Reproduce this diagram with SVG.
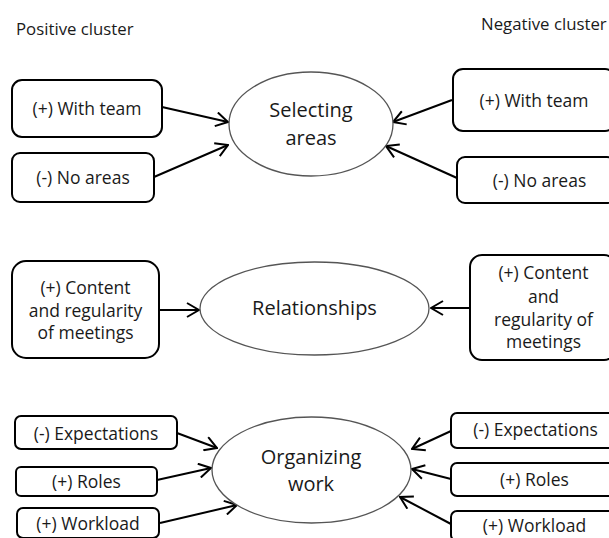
<svg xmlns="http://www.w3.org/2000/svg" width="609" height="538" viewBox="0 0 609 538">
<style>
.bg{fill:#ffffff}
.box{fill:#ffffff;stroke:#000000;stroke-width:2}
.ell{fill:#ffffff;stroke:#555555;stroke-width:1.3}
.t{font-family:"Open Sans","Noto Sans",sans-serif;font-size:17.5px;fill:#1a1a1a;text-anchor:middle}
.e{font-family:"Open Sans","Noto Sans",sans-serif;font-size:20px;fill:#1a1a1a;text-anchor:middle}
.h{font-family:"Open Sans","Noto Sans",sans-serif;font-size:16.8px;fill:#1a1a1a}
.c{stroke:#000000;stroke-width:2;fill:none;marker-end:url(#ah)}
</style>
<defs>
<marker id="ah" markerUnits="userSpaceOnUse" viewBox="0 0 14 16" markerWidth="14" markerHeight="16" refX="13" refY="8" orient="auto">
<path d="M1,1 L13,8 L1,15" fill="none" stroke="#000000" stroke-width="2"/>
</marker>
</defs>
<rect class="bg" x="0" y="0" width="609" height="538"/>
<g id="titles">
<text class="h" x="16" y="35">Positive cluster</text>
<text class="h" x="481" y="30" font-size="16.4">Negative cluster</text>
</g>
<g id="connectors">
<line class="c" x1="162" y1="107" x2="228" y2="122"/>
<line class="c" x1="154" y1="177" x2="228" y2="145"/>
<line class="c" x1="452" y1="100" x2="393" y2="122"/>
<line class="c" x1="457" y1="178" x2="386" y2="146"/>
<line class="c" x1="159" y1="310" x2="199" y2="310"/>
<line class="c" x1="470" y1="308" x2="431" y2="308"/>
<line class="c" x1="177" y1="433" x2="217" y2="448"/>
<line class="c" x1="157" y1="480" x2="211" y2="468"/>
<line class="c" x1="160" y1="523" x2="237" y2="505"/>
<line class="c" x1="451" y1="431" x2="412" y2="449"/>
<line class="c" x1="451" y1="479" x2="412" y2="469"/>
<line class="c" x1="451" y1="524" x2="400" y2="497"/>
</g>
<g id="selecting-areas">
<ellipse class="ell" cx="311" cy="124" rx="82" ry="52"/>
<text class="e" x="311" y="117">Selecting</text>
<text class="e" x="311" y="145">areas</text>
</g>
<g id="relationships">
<ellipse class="ell" cx="314.5" cy="308.5" rx="114.5" ry="46.5"/>
<text class="e" x="314.5" y="315">Relationships</text>
</g>
<g id="organizing-work">
<ellipse class="ell" cx="311.5" cy="470" rx="99.5" ry="53"/>
<text class="e" x="311" y="464">Organizing</text>
<text class="e" x="311" y="491">work</text>
</g>
<g id="pos-with-team">
<rect class="box" x="12" y="80" width="150" height="57" rx="10"/>
<text class="t" x="87" y="115">(+) With team</text>
</g>
<g id="pos-no-areas">
<rect class="box" x="12" y="153" width="142" height="49" rx="8"/>
<text class="t" x="83" y="184">(-) No areas</text>
</g>
<g id="pos-content">
<rect class="box" x="12" y="261" width="147" height="97" rx="14"/>
<text class="t" x="85.5" y="294">(+) Content</text>
<text class="t" x="85.5" y="317">and regularity</text>
<text class="t" x="85.5" y="339">of meetings</text>
</g>
<g id="pos-expectations">
<rect class="box" x="15" y="416" width="162" height="33" rx="6"/>
<text class="t" x="96" y="440">(-) Expectations</text>
</g>
<g id="pos-roles">
<rect class="box" x="16" y="467" width="141" height="29" rx="5"/>
<text class="t" x="86.5" y="488">(+) Roles</text>
</g>
<g id="pos-workload">
<rect class="box" x="17" y="508" width="142" height="30" rx="6"/>
<text class="t" x="88" y="530">(+) Workload</text>
</g>
<g id="neg-with-team">
<rect class="box" x="453" y="69" width="162" height="62" rx="10"/>
<text class="t" x="534" y="107">(+) With team</text>
</g>
<g id="neg-no-areas">
<rect class="box" x="457" y="157" width="158" height="46" rx="8"/>
<text class="t" x="539.5" y="187">(-) No areas</text>
</g>
<g id="neg-content">
<rect class="box" x="470" y="255" width="146" height="105" rx="12"/>
<text class="t" x="543.5" y="279">(+) Content</text>
<text class="t" x="543.5" y="303">and</text>
<text class="t" x="543.5" y="326">regularity of</text>
<text class="t" x="543.5" y="348">meetings</text>
</g>
<g id="neg-expectations">
<rect class="box" x="451" y="413" width="165" height="35" rx="6"/>
<text class="t" x="535.5" y="436">(-) Expectations</text>
</g>
<g id="neg-roles">
<rect class="box" x="451" y="463" width="165" height="33" rx="6"/>
<text class="t" x="534.5" y="486">(+) Roles</text>
</g>
<g id="neg-workload">
<rect class="box" x="451" y="511" width="165" height="30" rx="6"/>
<text class="t" x="534.5" y="532">(+) Workload</text>
</g>
</svg>
